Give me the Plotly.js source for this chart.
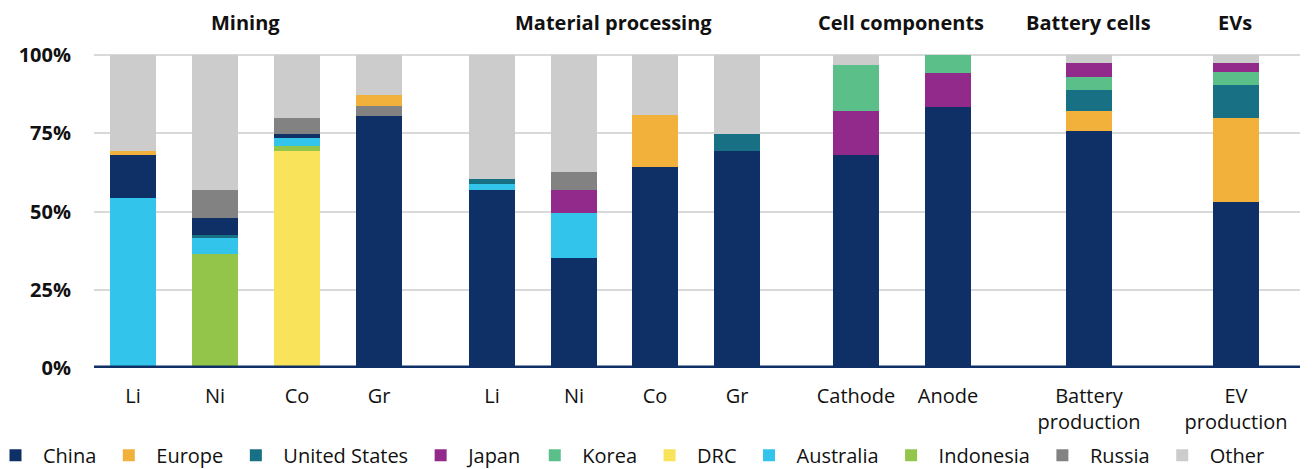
<!DOCTYPE html>
<html>
<head>
<meta charset="utf-8">
<script src="https://cdn.plot.ly/plotly-3.0.1.min.js"></script>
<style>html,body{margin:0;padding:0;background:#fff;}#chart{width:1313px;height:469px;}</style>
</head>
<body>
<div id="chart"></div>
<script>
// ---- Data ----
var categories = ["Li", "Ni", "Co", "Gr", "Li ", "Ni ", "Co ", "Gr ", "Cathode", "Anode", "Battery<br>production", "EV<br>production"];
var tickLabels = ["Li", "Ni", "Co", "Gr", "Li", "Ni", "Co", "Gr", "Cathode", "Anode", "Battery<br>production", "EV<br>production"];
var groupLabels = ["Mining", "Material processing", "Cell components", "Battery cells", "EVs"];

var china     = [13.8, 5.2, 1.3, 80.7, 57.0, 35.3, 64.1, 69.2, 68.2, 83.5, 75.9, 53.2];
var europe    = [1.2, 0, 0, 3.5, 0, 0, 16.9, 0, 0, 0, 6.4, 26.8];
var us        = [0, 1.2, 0, 0, 1.6, 0, 0, 5.7, 0, 0, 6.7, 10.3];
var japan     = [0, 0, 0, 0, 0, 7.4, 0, 0, 14.1, 10.9, 4.5, 2.9];
var korea     = [0, 0, 0, 0, 0, 0, 0, 0, 14.7, 5.6, 4.1, 4.4];
var drc       = [0, 0, 69.2, 0, 0, 0, 0, 0, 0, 0, 0, 0];
var australia = [54.2, 5.1, 2.5, 0, 1.9, 14.3, 0, 0, 0, 0, 0, 0];
var indonesia = [0, 36.3, 1.9, 0, 0, 0, 0, 0, 0, 0, 0, 0];
var russia    = [0, 9.2, 5.1, 2.9, 0, 5.7, 0, 0, 0, 0, 0, 0];
var other     = [30.8, 43.0, 20.0, 12.9, 39.5, 37.3, 19.0, 25.1, 3.0, 0, 2.4, 2.4];

var yTicks = [0, 25, 50, 75, 100];
var yTickLabels = ["0%", "25%", "50%", "75%", "100%"];

// ---- Layout config (positions / styles) ----
var slotPos = [39, 121, 203, 285, 398, 480, 561, 643, 762, 854, 995, 1142];
var groupPos = [151, 519, 807, 994, 1141];
var barWidth = 46;
var FONT = "Open Sans, sans-serif";

var series = {
  "China": {v: china, c: "#0e3066"},
  "Europe": {v: europe, c: "#f2b13b"},
  "United States": {v: us, c: "#187084"},
  "Japan": {v: japan, c: "#922a8c"},
  "Korea": {v: korea, c: "#5bbf89"},
  "DRC": {v: drc, c: "#f9e35a"},
  "Australia": {v: australia, c: "#33c4ec"},
  "Indonesia": {v: indonesia, c: "#93c54b"},
  "Russia": {v: russia, c: "#828282"},
  "Other": {v: other, c: "#cccccc"}
};
var legendOrder = ["China", "Europe", "United States", "Japan", "Korea", "DRC", "Australia", "Indonesia", "Russia", "Other"];

// stacking order differs per stage group
var stackGroups = [
  {idx: [0, 1, 2, 3], order: ["DRC", "Indonesia", "Australia", "United States", "China", "Russia", "Europe", "Japan", "Korea", "Other"]},
  {idx: [4, 5, 6, 7, 10, 11], order: ["China", "Europe", "Australia", "United States", "Korea", "Japan", "Russia", "DRC", "Indonesia", "Other"]},
  {idx: [8, 9], order: ["China", "Japan", "Korea", "Europe", "United States", "Australia", "Russia", "DRC", "Indonesia", "Other"]}
];

var traces = [];
var shown = {};
stackGroups.forEach(function (g) {
  g.order.forEach(function (name) {
    var s = series[name];
    traces.push({
      type: "bar",
      name: name,
      legendgroup: name,
      legendrank: legendOrder.indexOf(name) + 1,
      showlegend: !shown[name],
      x: g.idx.map(function (i) { return slotPos[i]; }),
      y: g.idx.map(function (i) { return s.v[i]; }),
      width: barWidth,
      marker: {color: s.c, line: {width: 0}},
      hoverinfo: "name+y"
    });
    shown[name] = true;
  });
});

var annotations = groupLabels.map(function (t, i) {
  return {
    text: "<b>" + t + "</b>", x: groupPos[i], xref: "x", y: 1.092, yref: "paper",
    xanchor: "center", yanchor: "middle", showarrow: false,
    font: {family: FONT, size: 20, color: "#111"}
  };
});

var layout = {
  width: 1313, height: 469,
  margin: {l: 94, r: 13, t: 52, b: 100.5, autoexpand: false},
  paper_bgcolor: "#fff", plot_bgcolor: "#fff",
  barmode: "stack",
  showlegend: true,
  legend: {
    orientation: "h",
    x: -0.0879, xanchor: "left", y: -0.2765, yanchor: "middle",
    font: {family: FONT, size: 20, color: "#111"},
    itemwidth: 45, traceorder: "normal", itemclick: false
  },
  xaxis: {
    range: [0, 1206], tickmode: "array", tickvals: slotPos, ticktext: tickLabels,
    showgrid: false, zeroline: false, showline: false, ticks: "",
    ticklabelstandoff: 14,
    tickfont: {family: FONT, size: 20, color: "#111"},
    fixedrange: true
  },
  yaxis: {
    range: [0, 101], tickmode: "array", tickvals: yTicks, ticktext: yTickLabels,
    showgrid: true, gridcolor: "#d9d9d9", gridwidth: 2,
    zeroline: false, showline: false, ticks: "",
    ticklabelstandoff: 22,
    tickfont: {family: FONT, size: 20, color: "#111", weight: "bold"},
    fixedrange: true
  },
  shapes: [{
    type: "line", xref: "paper", x0: 0, x1: 1, yref: "y", y0: 0, y1: 0,
    line: {color: "#0e3066", width: 5}, layer: "above"
  }],
  annotations: annotations
};

Plotly.newPlot("chart", traces, layout, {displayModeBar: false, staticPlot: true});
</script>
</body>
</html>
